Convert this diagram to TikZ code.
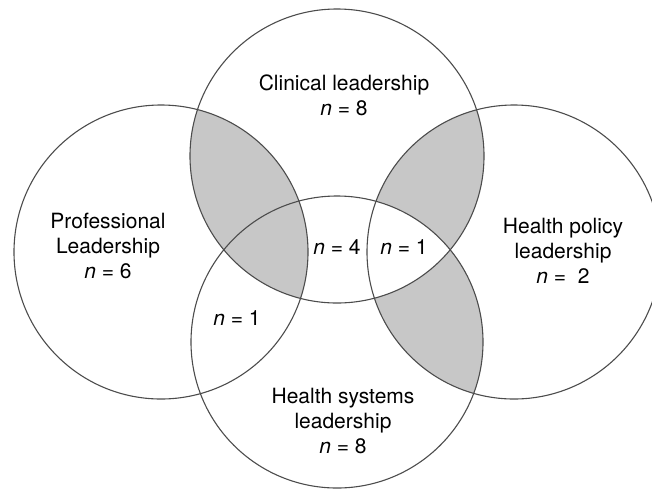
\documentclass[tikz,border=0pt]{standalone}
\usepackage{fontspec}
\setmainfont{TeX Gyre Heros}

\tikzset{
  ring/.style={draw=black!70, line width=0.55pt},
  greyzone/.style={fill=black!22},
  settext/.style={align=center, font=\fontsize{10.5}{12.5}\selectfont},
  counttext/.style={font=\fontsize{10.5}{12.5}\selectfont}
}
\newcommand{\nis}[1]{\textit{n} = #1}

\begin{document}
\begin{tikzpicture}[x=0.5pt, y=-0.5pt]
  \useasboundingbox (0,0) rectangle (652,489);
  \clip (0,0) rectangle (652,489);

  \coordinate (clin) at (337,156);
  \coordinate (prof) at (161,252);
  \coordinate (pol)  at (514,252);
  \coordinate (sys)  at (337,342);

  \begin{scope}
    \clip (clin) circle [radius=147];
    \fill [greyzone] (prof) circle [radius=147];
  \end{scope}
  \begin{scope}
    \clip (pol) circle [radius=147];
    \fill [greyzone, even odd rule] (clin) circle [radius=147] (sys) circle [radius=146];
  \end{scope}

  \draw [ring] (clin) circle [radius=147];
  \draw [ring] (prof) circle [radius=147];
  \draw [ring] (pol)  circle [radius=147];
  \draw [ring] (sys)  circle [radius=146];

  \node [settext] (clinname) at (344,95)  {Clinical leadership\\\nis{8}};
  \node [settext] (profname) at (108,246) {Professional\\Leadership\\\nis{6}};
  \node [settext] (polname)  at (563,251) {Health policy\\leadership\\\textit{n} =\ \ 2};
  \node [settext] (sysname)  at (343,421) {Health systems\\leadership\\\nis{8}};

  \node [counttext] (core)    at (337,247) {\nis{4}};
  \node [counttext] (clinpol) at (404,247) {\nis{1}};
  \node [counttext] (profsys) at (237,318) {\nis{1}};
\end{tikzpicture}
\end{document}
